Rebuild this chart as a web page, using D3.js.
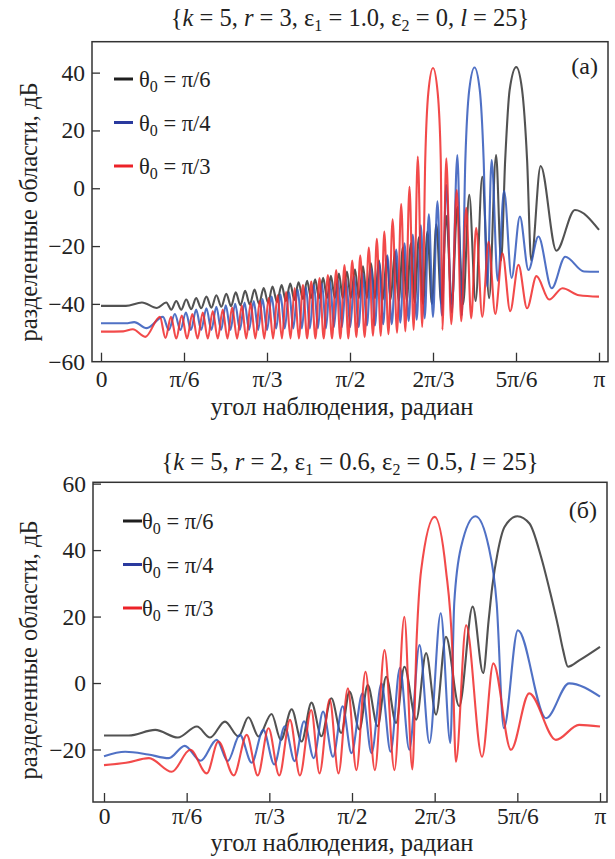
<!DOCTYPE html>
<html>
<head>
<meta charset="utf-8">
<script src="https://cdn.jsdelivr.net/npm/d3@7"></script>
<style>
  body { margin: 0; background: #fff; }
  #chart, #chart text, #chart tspan {
    font-family: "Liberation Serif", "Tinos", "DejaVu Serif", "Times New Roman", Times, serif;
  }
  #chart text { fill: #222; }
</style>
</head>
<body>
<svg id="chart" width="615" height="859"></svg>
<script>

// panel (a): k=5, r=3, eps1=1.0, eps2=0, l=25
var aBlack = [[0,-40.7],[9,-40.7],[14.8,-39.5],[20.2,-41.4],
  [23.6,-39.5],[25.4,-42],[27.2,-39],[29,-42],[30.8,-38.5],[32.6,-41.8],[34.4,-38],[36.2,-41.5],
  [38.1,-37.5],[39.9,-41.3],[41.7,-37],[43.5,-41],[45.3,-36.5],[47,-40.8],[48.7,-36],[50.4,-40.5],
  [52.1,-35.5],[53.8,-40.2],[55.5,-35],[57.1,-40],[58.8,-34.5],[60.4,-39.6],[62,-34],[63.6,-39.3],
  [65.3,-33.5],[66.8,-39],[68.4,-33],[69.9,-38.6],[71.4,-32.5],[73,-38.3],[74.5,-32],[75.9,-38],
  [77.4,-31.5],[78.8,-38],[80.3,-31],[81.7,-38],[83.1,-30.3],[84.5,-38],[86,-29.5],[87.4,-38],
  [88.9,-28.8],[90.3,-38],[91.8,-28],[93.2,-38],[94.7,-27],[96.1,-38],[97.6,-26],[99,-38],
  [100.5,-25],[101.9,-38.5],[103.3,-23.5],[104.7,-38.5],[106.2,-22],[107.6,-39],[109.1,-20.5],[110.5,-39],
  [112,-19],[113.4,-39.5],[114.9,-17],[116.4,-40],[118,-15],[119.6,-40],[121.2,-12.5],[123,-40],
  [124.8,-9.5],[126.8,-40],[128.8,-6.5],[130.9,-40],[133.1,-2.3],[135.4,-39],[137.8,4],[140.3,-38],
  [142.8,11.5],[144.6,-25],[146.1,10],[147.7,34],[150.1,41.9],[152.2,34],[154,10],[155.5,-25],
  [158.9,7.7],[164.6,-21.6],[171.3,-7.5],[180,-14.4]];

var aBlue = [[0,-46.7],[9,-46.7],[12,-46.3],[16.5,-48.4],
  [22.4,-44.5],[24.5,-49],[26.7,-43.5],[28.7,-49],[30.7,-43],[32.5,-49],[34.4,-42],[36.2,-49],
  [38.1,-41.5],[39.9,-49],[41.7,-41],[43.4,-49],[45.1,-40.5],[46.8,-49],[48.5,-40],[50.2,-49],
  [51.9,-39.5],[53.5,-49],[55.2,-39],[56.8,-49],[58.4,-38.3],[60,-49],[61.7,-37.5],[63.3,-48.5],
  [64.9,-36.8],[66.4,-48.5],[68,-36],[69.5,-48.5],[71.1,-35],[72.6,-48.5],[74.1,-34.3],[75.5,-48.5],
  [77,-33.5],[78.4,-48.5],[79.9,-33],[81.3,-48.5],[82.8,-32.3],[84.2,-48],[85.7,-31.8],[87.1,-48],
  [88.6,-31.5],[90.1,-48],[91.6,-30.6],[93.1,-48],[94.6,-29.4],[96.1,-47.5],[97.6,-27.7],[99,-47.5],
  [100.5,-25.4],[102,-47],[103.5,-23.2],[105.1,-47],[106.7,-21.2],[108.2,-46.5],[109.7,-19],[111.2,-46],
  [112.7,-16],[114.1,-45.5],[115.6,-12.8],[117,-45],[118.5,-9],[120,-44.5],[121.6,-4.5],[123.2,-44],
  [124.8,1.1],[126.8,-43],[128.8,11.5],[130.4,-44],[131.7,10],[133.1,34],[135,41.8],[136.9,34],
  [138.3,10],[139.6,-34],[141.2,9.8],[143.4,-32],[145.7,-0.9],[148.4,-31],[151.4,-9.8],[154.5,-28.3],
  [158.1,-16.7],[162.9,-34.6],[167.8,-23.7],[174.6,-28.8],[180,-28.9]];

var aRed = [[0,-49.6],[8,-49.5],[11.5,-48.8],[16,-51.4],
  [21.3,-44.5],[23.3,-51.8],[25.3,-44.5],[27.2,-52],[29.2,-44],[31.1,-52],[33,-43.5],[34.9,-52],
  [36.8,-43],[38.6,-52],[40.4,-42.5],[42.2,-52],[44,-42],[45.7,-52],[47.4,-41.3],[49.2,-52],
  [50.9,-40.6],[52.5,-52],[54.1,-39.8],[55.8,-52],[57.4,-39],[59,-52],[60.6,-38],[62.2,-52],
  [63.8,-37],[65.4,-52],[66.9,-35.8],[68.5,-52],[70,-34.5],[71.5,-52],[73,-33.5],[74.5,-52],
  [76,-32.3],[77.5,-52],[79,-31.1],[80.5,-52],[82,-30],[83.5,-52],[85,-28.3],[86.5,-52],
  [88,-26.6],[89.4,-52],[90.8,-25],[92.3,-51.5],[93.7,-23.3],[95.3,-51.5],[96.8,-20.5],[98.3,-51],
  [99.7,-17.5],[101.1,-51],[102.4,-15],[103.9,-50.5],[105.4,-10.7],[107,-50],[108.5,-5.5],[110,-49.5],
  [111.5,0.5],[113,-49],[114.5,11],[116.1,-48],[117.2,10],[118.3,33],[120,41.6],[121.7,33],
  [122.8,10],[123.4,-49],[124.8,10.4],[126.6,-47],[128.6,-0.6],[130.2,-46],[132,-6.8],[133.8,-45],
  [135.6,-13.7],[137.8,-44.5],[140.1,-18.5],[142.5,-43.5],[145.1,-22.5],[147.9,-42.5],[150.9,-26.5],[154,-41.5],
  [157.4,-30.4],[162,-38.5],[166.8,-34.6],[172.8,-37],[180,-37.5]];

// panel (б): k=5, r=2, eps1=0.6, eps2=0.5, l=25
var bBlack = [[0,-15.8],[9,-15.8],[18.6,-14.1],[26.8,-16.4],[33.7,-13.1],[38.5,-16.4],
  [43.9,-11.6],[48.8,-16.1],[52.4,-10.3],[56.1,-16.1],[60.8,-9.3],[64.2,-17.1],[68.1,-7.9],[71.7,-17.6],
  [75.3,-5.9],[78.9,-16],[82.5,-4.6],[86.1,-15],[89.1,-2.6],[92.7,-14],[95.7,-0.6],[99.3,-13],
  [102.4,1.9],[106,-12],[109,4.9],[113.3,-11],[116.9,9],[120.5,-9.5],[124.1,13.9],[128.9,-7],
  [133.8,23],[137.6,3],[139.6,19],[140.9,29],[142.8,39],[145.4,47],[150,50.2],[154.4,48],
  [158.6,38],[162,27],[164.8,17],[166.6,9.9],[168.4,4.9],[172.6,6.9],[180,10.9]];

var bBlue = [[0,-22],[7.7,-20.7],[16,-21.5],[23.5,-22.6],[29.3,-18.9],[35.1,-23.4],
  [40.9,-17.1],[44.9,-23.5],[49.3,-15.6],[53.6,-24],[57.8,-14.1],[61.8,-24.5],[65.6,-13],[69.2,-23.5],
  [72.6,-11.5],[76.1,-22.6],[79.5,-8.6],[83.1,-22.2],[86.6,-7],[89.8,-21.1],[93.8,-3.1],[97.1,-21.1],
  [100.7,-0.1],[104,-20.7],[107.4,4.6],[110.8,-20.1],[114.5,11.4],[118.1,-18],[122.2,21],[125.7,-18],
  [127.1,24],[129.6,41],[134.8,50.2],[139.6,41],[142.5,24],[145.1,-13.6],[150.2,15.9],[160.4,-10.6],
  [168.8,-0.1],[180,-4.1]];

var bRed = [[0,-24.7],[8,-24],[16.3,-22.6],[24.6,-26.7],[31.3,-20.1],[37.3,-27.2],
  [41.5,-17.6],[47.1,-27.8],[51.8,-15.6],[55.8,-27.8],[59.7,-13.6],[63.6,-27.8],[67.5,-11.1],[71.1,-27.8],
  [75.2,-8.1],[78.2,-27.2],[81.9,-4.9],[85.1,-27.2],[88.5,-1.6],[91.6,-26.2],[94.9,3.4],[98.3,-26.2],
  [101.8,9.9],[105.4,-26.2],[109,19.9],[111.9,-26],[113.5,14],[115.1,34],[120,50],[124.1,34],
  [126.4,10],[127.7,-23.7],[131.4,17.4],[137.2,-22.2],[141.3,5.9],[147.7,-20.1],[154.3,-3.1],[164,-17.1],
  [172.4,-12.6],[180,-13.1]];

// ticks and labels
var xTickDeg = [0, 30, 60, 90, 120, 150, 180];
var xTickLabels = ["0", "π/6", "π/3", "π/2", "2π/3", "5π/6", "π"];
var aYTicks = [40, 20, 0, -20, -40, -60];
var bYTicks = [60, 40, 20, 0, -20];
var seriesNames = ["π/6", "π/4", "π/3"];
var aParams = ["5", "3", "1.0", "0", "25"];
var bParams = ["5", "2", "0.6", "0.5", "25"];

var curveColors = ["#343434", "#3158bb", "#f02a2a"];
var legendColors = ["#1e1e1e", "#2a3a9e", "#ec2228"];

var svg = d3.select("#chart");

function fmt(d) {
  return d < 0 ? "\u2212" + Math.abs(d) : String(d);
}

function drawPanel(p) {
  var x = d3.scaleLinear().domain([0, 180]).range([p.x0, p.x1]);
  var y = d3.scaleLinear().domain(p.yDomain).range([p.bottom, p.top]);

  var g = svg.append("g");

  var clipId = "clip-" + p.id;
  svg.append("clipPath").attr("id", clipId)
    .append("rect")
    .attr("x", p.left).attr("y", p.top)
    .attr("width", p.right - p.left).attr("height", p.bottom - p.top);

  // curves
  var line = d3.line()
    .x(d => x(d[0]))
    .y(d => y(d[1]))
    .curve(d3.curveMonotoneX);

  g.append("g").attr("clip-path", "url(#" + clipId + ")")
    .selectAll("path")
    .data(p.series)
    .enter()
    .append("path")
    .attr("d", d => line(d))
    .attr("fill", "none")
    .attr("stroke", (d, i) => curveColors[i])
    .attr("stroke-width", 2.1)
    .attr("stroke-opacity", 0.85)
    .attr("stroke-linejoin", "round");

  // axes
  var bottomAxis = d3.axisBottom(x)
    .tickValues(xTickDeg)
    .tickSize(-9)
    .tickPadding(p.xPad)
    .tickFormat((d, i) => xTickLabels[i]);

  var leftAxis = d3.axisLeft(y)
    .tickValues(p.yTicks)
    .tickSize(-8)
    .tickPadding(7)
    .tickFormat(fmt);

  var gx = g.append("g")
    .attr("transform", `translate(0, ${p.bottom})`)
    .call(bottomAxis);
  var gy = g.append("g")
    .attr("transform", `translate(${p.left}, 0)`)
    .call(leftAxis);

  [gx, gy].forEach(function(a) {
    a.attr("font-family", null).attr("font-size", null);
    a.select(".domain").remove();
    a.selectAll("line").attr("stroke", "#333").attr("stroke-width", 1.3);
    a.selectAll("text")
      .attr("font-size", 23.5)
      .attr("fill", "#222");
  });
  gy.selectAll(".tick").filter(d => d === p.yDomain[0]).select("line").remove();

  // frame
  g.append("rect")
    .attr("x", p.left).attr("y", p.top)
    .attr("width", p.right - p.left).attr("height", p.bottom - p.top)
    .attr("fill", "none")
    .attr("stroke", "#333")
    .attr("stroke-width", 1.5);

  // title
  var t = g.append("text")
    .attr("x", (p.left + p.right) / 2)
    .attr("y", p.titleY)
    .attr("text-anchor", "middle")
    .attr("font-size", 24.5);
  t.append("tspan").text("{");
  t.append("tspan").attr("font-style", "italic").text("k");
  t.append("tspan").text(" = " + p.params[0] + ", ");
  t.append("tspan").attr("font-style", "italic").text("r");
  t.append("tspan").text(" = " + p.params[1] + ", ε");
  t.append("tspan").attr("font-size", 16).attr("dy", 5).text("1");
  t.append("tspan").attr("dy", -5).text(" = " + p.params[2] + ", ε");
  t.append("tspan").attr("font-size", 16).attr("dy", 5).text("2");
  t.append("tspan").attr("dy", -5).text(" = " + p.params[3] + ", ");
  t.append("tspan").attr("font-style", "italic").text("l");
  t.append("tspan").text(" = " + p.params[4] + "}");

  // axis titles
  g.append("text")
    .attr("x", (p.left + p.right) / 2 - 8)
    .attr("y", p.xLabelY)
    .attr("text-anchor", "middle")
    .attr("font-size", 24.5)
    .text("угол наблюдения, радиан");

  g.append("text")
    .attr("transform", `translate(${p.yLabelX}, ${p.yLabelY}) rotate(-90)`)
    .attr("text-anchor", "middle")
    .attr("font-size", 24.5)
    .text("разделенные области, дБ");

  // panel letter
  g.append("text")
    .attr("x", p.right - 10)
    .attr("y", p.letterY)
    .attr("text-anchor", "end")
    .attr("font-size", 24)
    .text(p.letter);

  // legend
  var leg = g.selectAll("g.legend")
    .data(seriesNames)
    .enter()
    .append("g")
    .attr("class", "legend")
    .attr("transform", (d, i) => `translate(0, ${p.legY + i * p.legStep})`);

  leg.append("line")
    .attr("x1", p.legX).attr("x2", p.legX + 19)
    .attr("y1", 0).attr("y2", 0)
    .attr("stroke", (d, i) => legendColors[i])
    .attr("stroke-width", 3);

  var lt = leg.append("text")
    .attr("x", p.legTextX)
    .attr("y", 8)
    .attr("font-size", 22.5);
  lt.append("tspan").text("θ");
  lt.append("tspan").attr("font-size", 16).attr("dy", 5).text("0");
  lt.append("tspan").attr("dy", -5).text(d => " = " + d);
}

drawPanel({
  id: "a", letter: "(a)", params: aParams,
  series: [aBlack, aBlue, aRed],
  left: 92, right: 608, top: 41.7, bottom: 361.7,
  x0: 101, x1: 599, xPad: 9,
  yDomain: [-60, 50.7], yTicks: aYTicks,
  titleY: 26, xLabelY: 415, yLabelX: 37, yLabelY: 212,
  letterY: 74,
  legX: 114, legTextX: 139, legY: 79, legStep: 43.5
});

drawPanel({
  id: "b", letter: "(б)", params: bParams,
  series: [bBlack, bBlue, bRed],
  left: 93, right: 607, top: 482.3, bottom: 802,
  x0: 104, x1: 600, xPad: 5,
  yDomain: [-35.8, 60.4], yTicks: bYTicks,
  titleY: 470, xLabelY: 851, yLabelX: 37, yLabelY: 650,
  letterY: 518,
  legX: 123, legTextX: 142, legY: 521, legStep: 43.5
});
</script>
</body>
</html>
